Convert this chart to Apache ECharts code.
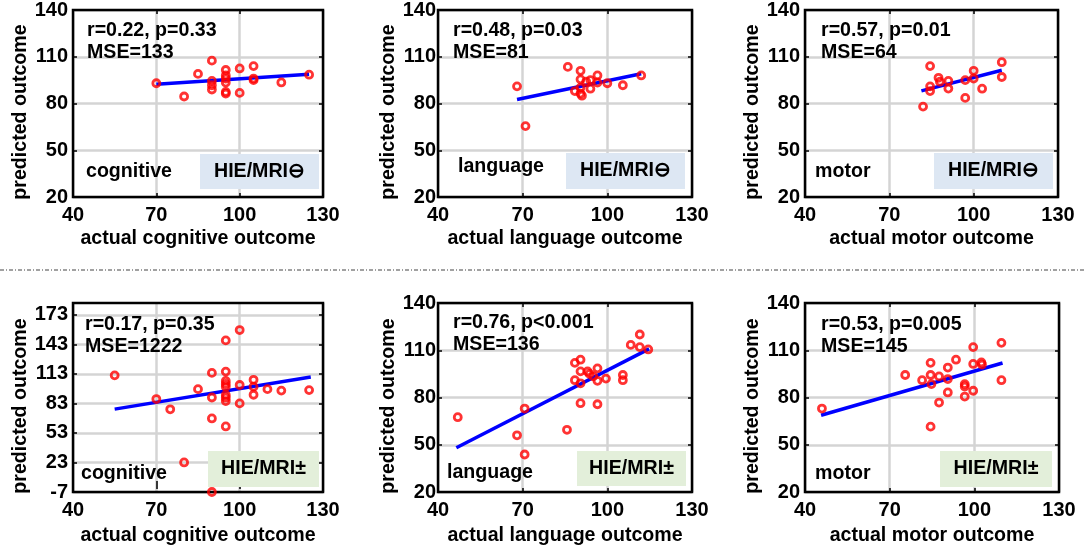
<!DOCTYPE html>
<html>
<head>
<meta charset="utf-8">
<script src="https://cdn.jsdelivr.net/npm/echarts@6/dist/echarts.min.js"></script>
<style>
html, body { margin: 0; padding: 0; background: #fff; }
#main { width: 1084px; height: 550px; }
</style>
</head>
<body>
<div id="main"></div>
<script>
var myChart = echarts.init(document.getElementById('main'));

// tick values
var xTicks = [40, 70, 100, 130];
var yTicks = [20, 50, 80, 110, 140];
var yTicksWide = [-7, 23, 53, 83, 113, 143, 173];

// top row: HIE/MRI negative
var cogNegX = [70, 80, 85, 90, 90, 90, 90, 95, 95, 95, 95, 95, 95, 100, 100, 105, 105, 105, 115, 125];
var cogNegY = [93, 84.5, 99, 107.5, 94.5, 91.7, 89, 101.5, 98, 96, 93.4, 87.4, 86.4, 102.5, 86.8, 104, 96, 95, 93.5, 98.5];
var cogNegFit = [[70, 92.3], [125, 98.7]];

var lanNegX = [68, 71, 86, 88.5, 90.5, 90.5, 90.5, 90.5, 91, 92.5, 94, 94, 96.5, 96.5, 100, 105.5, 112];
var lanNegY = [91, 65.5, 103.5, 88, 101, 95.5, 90.2, 86.4, 85, 94, 89.5, 95, 98, 93.4, 93, 91.7, 98];
var lanNegFit = [[68, 82.6], [112, 99.1]];

var motNegX = [82, 84.5, 84.5, 84.5, 87.5, 88, 91, 91, 97, 97, 100, 100, 103, 110, 110];
var motNegY = [78, 104, 91, 88, 96.5, 94, 94.5, 89.6, 95, 83.6, 101, 96, 89.5, 106.5, 97];
var motNegFit = [[81.4, 88.1], [110, 101.3]];

// bottom row: HIE/MRI all
var cogAllX = [55, 70, 75, 80, 85, 90, 90, 90, 90, 95, 95, 95, 95, 95, 95, 95, 95, 95, 100, 100, 100, 105, 105, 105, 110, 115, 125];
var cogAllY = [111.5, 87.4, 77, 23, 97.5, 114, 89, 67.7, -7, 147, 115.3, 105.8, 102.7, 100, 91.5, 88.8, 85.4, 59.6, 157.5, 101.7, 83, 107, 100, 91.8, 97.5, 96, 96.5];
var cogAllFit = [[55, 77.2], [125.6, 109.8]];

var lanAllX = [47, 68, 70.7, 70.7, 85.7, 88.5, 88.5, 90.5, 90.5, 90.5, 90.5, 93, 93.7, 95, 96.5, 96.5, 96.5, 99.5, 105.5, 105.5, 108.3, 111.5, 111.5, 114.5];
var lanAllY = [67.5, 56, 73, 43.8, 59.5, 102, 91, 104, 96.6, 89, 76.4, 96.5, 95, 93.4, 98.5, 90.6, 75.7, 92, 94.3, 91, 113.4, 120, 112, 110.5];
var lanAllFit = [[46.5, 48.1], [114.8, 110.9]];

var motAllX = [46, 75.5, 81.5, 84.5, 84.5, 84.8, 84.5, 87.5, 87.5, 90.6, 90.6, 90.6, 93.5, 96.6, 96.6, 96.6, 99.6, 99.6, 99.6, 102.5, 102.7, 109.6, 109.6];
var motAllY = [73, 94.3, 91, 102, 94.3, 88.5, 61.5, 93.4, 76.8, 99, 91.7, 83.2, 104, 88.5, 87, 80.6, 112, 101.3, 84.3, 102.3, 100.9, 114.7, 91];
var motAllFit = [[45.7, 68.7], [110, 101.9]];

// statistics text
var statsText = ['r=0.22, p=0.33', 'r=0.48, p=0.03', 'r=0.57, p=0.01', 'r=0.17, p=0.35', 'r=0.76, p<0.001', 'r=0.53, p=0.005'];
var mseText = ['MSE=133', 'MSE=81', 'MSE=64', 'MSE=1222', 'MSE=136', 'MSE=145'];
var domains = ['cognitive', 'language', 'motor', 'cognitive', 'language', 'motor'];
var groupTags = ['HIE/MRI\u2296', 'HIE/MRI\u2296', 'HIE/MRI\u2296', 'HIE/MRI\u00b1', 'HIE/MRI\u00b1', 'HIE/MRI\u00b1'];

var panels = [
    {xs: cogNegX, ys: cogNegY, fit: cogNegFit, grid: [73, 10, 250, 187], yMin: 20, yMax: 140, yT: yTicks,
     statsPos: [87, 31], domPos: [86, 172], box: [200, 154, 119, 35], boxColor: '#dde7f3', labM: 5, yGap: 42, xGap: 32},
    {xs: lanNegX, ys: lanNegY, fit: lanNegFit, grid: [438, 10, 254, 187], yMin: 20, yMax: 140, yT: yTicks,
     statsPos: [453, 31], domPos: [458, 167], box: [566, 153, 119, 36], boxColor: '#dde7f3', labM: 2, yGap: 36, xGap: 32},
    {xs: motNegX, ys: motNegY, fit: motNegFit, grid: [805, 10, 253, 187], yMin: 20, yMax: 140, yT: yTicks,
     statsPos: [821, 31], domPos: [815, 172], box: [934, 153, 119, 36], boxColor: '#dde7f3', labM: 5, yGap: 40, xGap: 32},
    {xs: cogAllX, ys: cogAllY, fit: cogAllFit, grid: [73, 303, 250, 189], yMin: -7, yMax: 185, yT: yTicksWide,
     statsPos: [85, 325], domPos: [81, 474], box: [208, 451, 111, 36], boxColor: '#e3efda', labM: 5, yGap: 42, xGap: 34},
    {xs: lanAllX, ys: lanAllY, fit: lanAllFit, grid: [438, 303, 254, 189], yMin: 20, yMax: 140, yT: yTicks,
     statsPos: [453, 323], domPos: [447, 473], box: [577, 451, 109, 35], boxColor: '#e3efda', labM: 2, yGap: 34, xGap: 34},
    {xs: motAllX, ys: motAllY, fit: motAllFit, grid: [805, 303, 254, 189], yMin: 20, yMax: 140, yT: yTicks,
     statsPos: [821, 325], domPos: [815, 474], box: [940, 451, 112, 36], boxColor: '#e3efda', labM: 5, yGap: 37, xGap: 34}
];

var font = '"Liberation Sans", Arial, Helvetica, sans-serif';

var grids = [], xAxes = [], yAxes = [], series = [], graphics = [];

panels.forEach(function (p, i) {
    grids.push({
        left: p.grid[0], top: p.grid[1], width: p.grid[2], height: p.grid[3],
        show: true, z: 1, backgroundColor: 'transparent', borderColor: '#000', borderWidth: 2.5
    });
    // bottom / left axes with labels
    xAxes.push({
        gridIndex: i, type: 'value', min: 40, max: 130, position: 'bottom',
        name: 'actual ' + domains[i] + ' outcome', nameLocation: 'middle', nameGap: p.xGap,
        nameTextStyle: {fontFamily: font, fontWeight: 'bold', fontSize: 19.6, color: '#000'},
        axisLine: {show: false},
        axisTick: {inside: true, length: 4, customValues: xTicks, lineStyle: {color: '#000', width: 1.5}},
        axisLabel: {customValues: xTicks, margin: 8, fontFamily: font, fontWeight: 'bold', fontSize: 20, color: '#000'},
        splitLine: {show: true, lineStyle: {color: '#d4d4d4', width: 2.5}}
    });
    yAxes.push({
        gridIndex: i, type: 'value', min: p.yMin, max: p.yMax, position: 'left',
        name: 'predicted outcome', nameLocation: 'middle', nameGap: p.yGap,
        nameTextStyle: {fontFamily: font, fontWeight: 'bold', fontSize: 19.6, color: '#000', padding: [0, 17, 0, 0]},
        axisLine: {show: false},
        axisTick: {inside: true, length: 4, customValues: p.yT, lineStyle: {color: '#000', width: 1.5}},
        axisLabel: {customValues: p.yT, margin: p.labM, fontFamily: font, fontWeight: 'bold', fontSize: 20, color: '#000'},
        splitLine: {show: true, lineStyle: {color: '#d4d4d4', width: 2.5}}
    });
});
// mirrored ticks on top / right
panels.forEach(function (p, i) {
    xAxes.push({
        gridIndex: i, type: 'value', min: 40, max: 130, position: 'top',
        axisLine: {show: false}, axisLabel: {show: false}, splitLine: {show: false},
        axisTick: {inside: true, length: 4, customValues: xTicks, lineStyle: {color: '#000', width: 1.5}}
    });
    yAxes.push({
        gridIndex: i, type: 'value', min: p.yMin, max: p.yMax, position: 'right',
        axisLine: {show: false}, axisLabel: {show: false}, splitLine: {show: false},
        axisTick: {inside: true, length: 4, customValues: p.yT, lineStyle: {color: '#000', width: 1.5}}
    });
});

panels.forEach(function (p, i) {
    series.push({
        type: 'line', xAxisIndex: i, yAxisIndex: i, data: p.fit, z: 3,
        showSymbol: false, silent: true, animation: false,
        lineStyle: {color: '#0000ff', width: 3.5}
    });
    series.push({
        type: 'scatter', xAxisIndex: i, yAxisIndex: i, z: 4, clip: false, animation: false,
        data: p.xs.map(function (x, k) { return [x, p.ys[k]]; }),
        symbol: 'circle', symbolSize: 7,
        itemStyle: {color: 'rgba(0,0,0,0)', borderColor: '#ff0000', borderWidth: 2.8}
    });

    var txt = {fontFamily: font, fontWeight: 'bold', fontSize: 19.6, fill: '#000', verticalAlign: 'middle', align: 'left'};
    graphics.push({type: 'text', x: p.statsPos[0], y: p.statsPos[1], z: 5, style: Object.assign({text: statsText[i]}, txt)});
    graphics.push({type: 'text', x: p.statsPos[0], y: p.statsPos[1] + 22, z: 5, style: Object.assign({text: mseText[i]}, txt)});
    graphics.push({type: 'text', x: p.domPos[0], y: p.domPos[1], z: 5, style: Object.assign({text: domains[i]}, txt)});
    graphics.push({type: 'rect', z: 1, shape: {x: p.box[0], y: p.box[1], width: p.box[2], height: p.box[3]},
        style: {fill: p.boxColor}});
    graphics.push({type: 'text', x: p.box[0] + p.box[2] / 2, y: p.box[1] + p.box[3] / 2, z: 5,
        style: Object.assign({}, txt, {text: groupTags[i], align: 'center'})});
});

// dash-dot separator between rows
graphics.push({type: 'line', z: 5, shape: {x1: 0, y1: 270, x2: 1084, y2: 270},
    style: {stroke: '#444', lineWidth: 1.2, lineDash: [4, 2, 1, 2]}});

var option = {
    backgroundColor: '#fff',
    animation: false,
    grid: grids,
    xAxis: xAxes,
    yAxis: yAxes,
    series: series,
    graphic: graphics
};
myChart.setOption(option);
</script>
</body>
</html>
